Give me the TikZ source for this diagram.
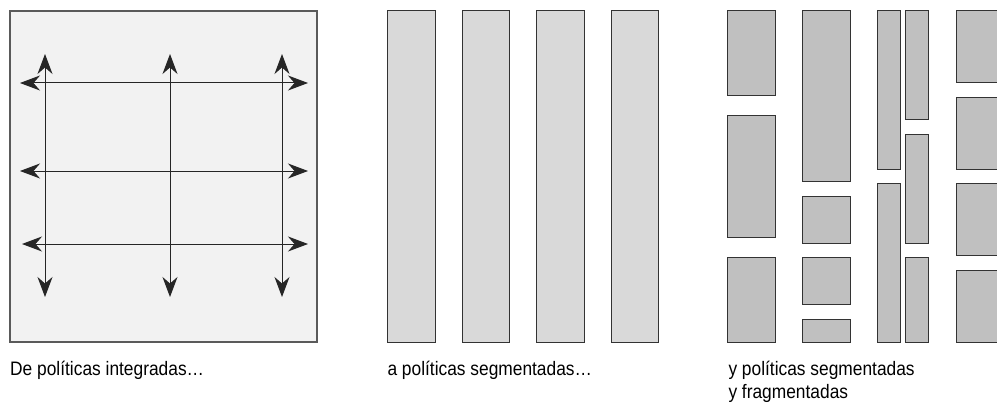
\documentclass[tikz,border=0pt]{standalone}
\usepackage{fontspec}
\setmainfont{Liberation Sans}[FakeStretch=0.89]
\usetikzlibrary{arrows.meta}
\definecolor{panelA}{HTML}{F2F2F2}
\definecolor{panelB}{HTML}{D9D9D9}
\definecolor{panelC}{HTML}{C0C0C0}
\definecolor{edgeA}{HTML}{5A5A5A}
\definecolor{edgeB}{HTML}{333333}
\tikzset{
  frameA/.style={fill=panelA, draw=edgeA, line width=1.4pt},
  barB/.style={fill=panelB, draw=edgeB, line width=1pt},
  blockC/.style={fill=panelC, draw=edgeB, line width=1pt},
  dblarrow/.style={draw=black!85, line width=1pt,
    {Stealth[length=20pt,width=15pt,inset=6.5pt]}-{Stealth[length=20pt,width=15pt,inset=6.5pt]}},
  caption/.style={inner sep=0pt, anchor=base west, align=left,
    font=\fontsize{19.5}{23}\selectfont}
}
\begin{document}
\begin{tikzpicture}[x=1pt,y=-1pt]
\useasboundingbox (0,0) rectangle (997,404);
\clip (0,0) rectangle (997,404);
% ---------- left panel: integrated ----------
\draw[frameA] (10,11) rectangle (317,342);
\coordinate (v1t) at (45,54);  \coordinate (v1b) at (45,297);
\coordinate (v2t) at (170,54); \coordinate (v2b) at (170,297);
\coordinate (v3t) at (282,54); \coordinate (v3b) at (282,297);
\coordinate (h1l) at (20,83);  \coordinate (h1r) at (308,83);
\coordinate (h2l) at (20,171); \coordinate (h2r) at (308,171);
\coordinate (h3l) at (22,244); \coordinate (h3r) at (308,244);
\draw[dblarrow] (v1t) -- (v1b);
\draw[dblarrow] (v2t) -- (v2b);
\draw[dblarrow] (v3t) -- (v3b);
\draw[dblarrow] (h1l) -- (h1r);
\draw[dblarrow] (h2l) -- (h2r);
\draw[dblarrow] (h3l) -- (h3r);
\node[caption] (capA) at (10,375) {De políticas integradas…};
% ---------- middle panel: segmented ----------
\draw[barB] (387.3,11) rectangle (435,342);
\draw[barB] (462.3,11) rectangle (509.7,342);
\draw[barB] (536.7,11) rectangle (584.3,342);
\draw[barB] (611.3,11) rectangle (658.7,342);
\node[caption] (capB) at (387.3,375) {a políticas segmentadas…};
% ---------- right panel: segmented and fragmented ----------
\draw[blockC] (727.7,11) rectangle (775.7,95.7);
\draw[blockC] (727.7,116) rectangle (775.7,237);
\draw[blockC] (727.7,257.3) rectangle (775.7,342.3);
\draw[blockC] (802.3,11) rectangle (850.3,181.7);
\draw[blockC] (802.3,196.3) rectangle (850.3,243.3);
\draw[blockC] (802.3,257.3) rectangle (850.3,304.3);
\draw[blockC] (802.3,319.3) rectangle (850.3,342.3);
\draw[blockC] (877.3,11) rectangle (900.3,169.3);
\draw[blockC] (877.3,183.3) rectangle (900.3,342.3);
\draw[blockC] (905,11) rectangle (928.3,120);
\draw[blockC] (905,134.3) rectangle (928.3,243.3);
\draw[blockC] (905,257.3) rectangle (928.3,342.3);
\draw[blockC] (956.7,11) rectangle (1010,82.3);
\draw[blockC] (956.7,97.7) rectangle (1010,169.3);
\draw[blockC] (956.7,183.3) rectangle (1010,255.3);
\draw[blockC] (956.7,270) rectangle (1010,342.3);
\node[caption] (capC) at (728.3,398) {y políticas segmentadas\\y fragmentadas};
\end{tikzpicture}
\end{document}
